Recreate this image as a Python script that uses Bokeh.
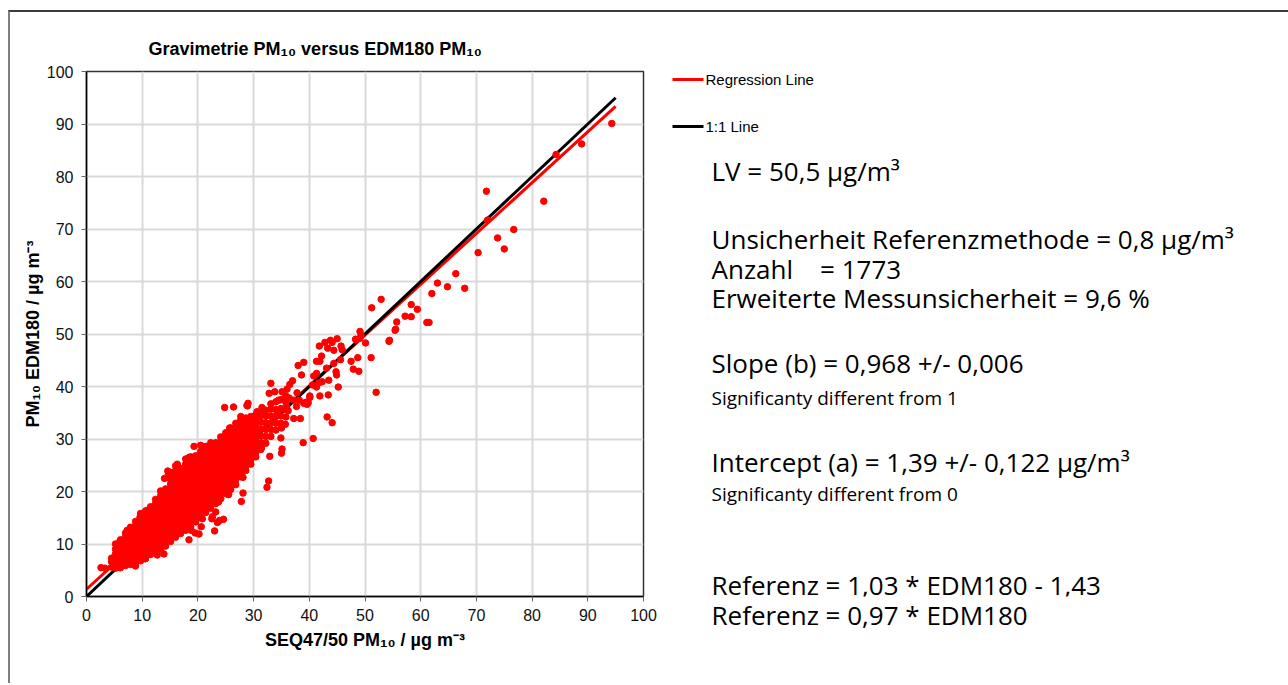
from bokeh.plotting import figure
from bokeh.layouts import row
from bokeh.models import Range1d, FixedTicker, Title
from bokeh.core.properties import value
from bokeh.embed import file_html
from bokeh.resources import INLINE

tick_values = [0, 10, 20, 30, 40, 50, 60, 70, 80, 90, 100]

# dense core of the scatter: x position of each column and the y values read in it
col_x = [4.5, 5.2, 6.1, 7.0, 7.9, 8.8, 9.7, 10.6, 11.5, 12.4, 13.3, 14.2, 15.1, 16.0,
         16.9, 17.8, 18.7, 19.6, 20.5, 21.4, 22.3, 23.2, 24.1, 25.0, 25.9, 26.8, 27.7,
         28.6, 29.5, 30.4, 31.3, 32.2, 33.1, 34.0, 34.9, 35.8]
col_y = [
    [5.6, 6.6, 7.3],
    [5.4, 6.3, 7.2, 8.1, 9.0, 10.0],
    [5.5, 6.4, 7.3, 8.2, 9.1, 10.1, 10.8],
    [5.9, 6.8, 7.7, 8.6, 9.5, 10.4, 11.3, 12.1],
    [6.1, 7.0, 7.9, 8.8, 9.7, 10.6, 11.5, 12.4, 13.2],
    [6.5, 7.2, 8.1, 9.0, 9.9, 10.8, 11.7, 12.6, 13.5, 14.3],
    [6.8, 7.7, 8.6, 9.5, 10.4, 11.3, 12.2, 13.1, 14.0, 14.9, 15.8],
    [7.2, 8.3, 9.2, 10.1, 11.0, 11.9, 12.8, 13.7, 14.6, 15.5, 16.3],
    [8.0, 9.0, 9.9, 10.8, 11.7, 12.6, 13.5, 14.4, 15.3, 16.2, 17.1],
    [8.6, 9.6, 10.5, 11.4, 12.3, 13.2, 14.1, 15.0, 15.9, 16.8, 17.7, 18.5],
    [9.0, 10.2, 11.1, 12.0, 12.9, 13.8, 14.7, 15.6, 16.5, 17.4, 18.3, 19.2, 20.1],
    [9.6, 10.6, 11.5, 12.4, 13.3, 14.2, 15.1, 16.0, 16.9, 17.8, 18.7, 19.6, 20.5],
    [10.5, 11.5, 12.4, 13.3, 14.2, 15.1, 16.0, 16.9, 17.8, 18.7, 19.6, 20.5, 21.4, 22.3, 23.0],
    [11.3, 12.3, 13.2, 14.1, 15.0, 15.9, 16.8, 17.7, 18.6, 19.5, 20.4, 21.3, 22.2, 23.1, 24.0, 24.9],
    [12.0, 13.0, 13.9, 14.8, 15.7, 16.6, 17.5, 18.4, 19.3, 20.2, 21.1, 22.0, 22.9, 23.8, 24.4],
    [12.6, 13.5, 14.4, 15.3, 16.2, 17.1, 18.0, 18.9, 19.8, 20.7, 21.6, 22.5, 23.4, 24.3, 25.2, 26.2],
    [13.3, 14.3, 15.2, 16.1, 17.0, 17.9, 18.8, 19.7, 20.6, 21.5, 22.4, 23.3, 24.2, 25.1, 26.0, 26.6],
    [14.2, 15.2, 16.1, 17.0, 17.9, 18.8, 19.7, 20.6, 21.5, 22.4, 23.3, 24.2, 25.1, 26.0, 26.8],
    [15.0, 16.0, 16.9, 17.8, 18.7, 19.6, 20.5, 21.4, 22.3, 23.2, 24.1, 25.0, 25.9, 26.8, 27.6],
    [16.0, 16.9, 17.8, 18.7, 19.6, 20.5, 21.4, 22.3, 23.2, 24.1, 25.0, 25.9, 26.8, 27.7, 28.4],
    [16.8, 17.8, 18.7, 19.6, 20.5, 21.4, 22.3, 23.2, 24.1, 25.0, 25.9, 26.8, 27.7, 28.6, 29.3],
    [17.7, 18.6, 19.5, 20.4, 21.3, 22.2, 23.1, 24.0, 24.9, 25.8, 26.7, 27.6, 28.5, 29.3],
    [18.6, 19.6, 20.5, 21.4, 22.3, 23.2, 24.1, 25.0, 25.9, 26.8, 27.7, 28.6, 29.5, 30.4],
    [19.6, 20.6, 21.5, 22.4, 23.3, 24.2, 25.1, 26.0, 26.9, 27.8, 28.7, 29.6, 30.5, 31.2],
    [20.4, 21.4, 22.3, 23.2, 24.1, 25.0, 25.9, 26.8, 27.7, 28.6, 29.5, 30.4, 31.3, 32.1],
    [21.3, 22.3, 23.2, 24.1, 25.0, 25.9, 26.8, 27.7, 28.6, 29.5, 30.4, 31.3, 32.2, 33.0],
    [22.8, 23.8, 24.7, 25.6, 26.5, 27.4, 28.3, 29.2, 30.1, 31.0, 31.9, 32.8, 33.6],
    [24.0, 24.9, 25.8, 26.7, 27.6, 28.5, 29.4, 30.3, 31.2, 32.1, 33.0, 34.0],
    [25.2, 26.1, 27.0, 27.9, 28.8, 29.7, 30.6, 31.5, 32.4, 33.3, 34.3],
    [26.6, 27.5, 28.4, 29.3, 30.2, 31.1, 32.0, 32.9, 33.8, 34.6],
    [28.0, 29.3, 30.6, 31.9, 33.2, 34.5, 35.1],
    [29.2, 30.5, 31.8, 33.1, 34.4, 35.5],
    [30.5, 31.8, 33.1, 34.4, 35.7, 36.7],
    [31.7, 33.0, 34.3, 35.6, 37.1],
    [33.0, 34.4, 35.8, 37.5],
    [34.2, 35.6, 37.0, 38.2],
]

# scattered points outside the dense core
out_x = [94.3, 88.9, 84.3, 82.1, 71.8, 72.0, 76.7, 73.8, 75.0, 70.3, 66.3, 63.0, 64.8, 67.9,
         62.0, 52.9, 51.2, 58.3, 59.4, 57.2, 58.3, 55.7, 61.1, 61.5, 55.5, 49.1, 45.0, 48.3,
         49.1, 54.4, 43.8, 54.3, 55.4, 51.1, 52.0, 50.1, 49.3, 48.4, 47.5, 47.9, 48.9, 48.7,
         45.6, 44.1, 42.8, 41.8, 43.3, 44.4, 45.7, 45.9, 42.2, 41.3, 41.9, 44.4, 43.1, 39.0,
         38.6, 41.3, 40.8, 44.8, 44.9, 43.5, 42.3, 41.7, 40.6, 41.3, 45.2, 41.9, 43.4, 40.1,
         39.4, 39.0, 39.6, 43.2, 44.1, 40.7, 38.9, 38.4, 38.0, 37.0, 33.1, 32.8, 35.1, 34.5,
         36.4, 37.2, 38.2, 35.9, 37.7, 39.8, 40.1, 37.2, 35.7, 35.0, 34.9, 35.1, 35.0, 32.9,
         32.7, 32.4, 31.4, 30.8, 30.6, 28.1, 27.8, 28.9, 28.7, 28.9, 29.0, 24.8, 27.7, 25.7,
         19.3, 20.5, 18.8, 18.4, 16.3, 14.0, 14.6, 14.7, 13.8, 13.9, 12.7, 10.5, 8.9, 8.8,
         6.0, 5.7, 4.8, 2.6, 3.3, 5.9, 6.2, 18.4, 18.8, 19.5, 20.6, 20.8, 23.0, 23.2, 23.5,
         23.9, 22.5, 23.7, 25.5, 24.0, 19.4, 21.7, 25.1, 20.2, 24.6, 22.6, 28.1, 30.0, 7.3,
         9.6, 10.9, 21.5, 15.1, 26.4, 28.8, 36.0, 33.8, 36.5, 37.8, 31.5, 30.0, 34.3, 36.2]
out_y = [90.1, 86.2, 84.2, 75.3, 77.2, 71.7, 69.9, 68.3, 66.2, 65.5, 61.5, 59.7, 59.0, 58.7,
         57.7, 56.6, 55.0, 55.6, 54.7, 53.4, 53.3, 52.3, 52.2, 52.2, 50.9, 50.5, 49.1, 49.0,
         49.2, 48.8, 48.8, 48.6, 50.7, 45.5, 38.9, 48.3, 49.8, 48.9, 44.8, 43.3, 42.9, 45.5,
         45.1, 48.4, 48.4, 47.7, 47.3, 46.9, 47.7, 47.0, 45.8, 44.8, 44.8, 44.4, 43.5, 44.6,
         42.2, 42.5, 42.0, 42.8, 42.2, 41.2, 40.9, 40.7, 40.3, 39.9, 39.9, 38.2, 38.4, 38.2,
         37.0, 36.8, 36.6, 34.2, 33.1, 30.1, 29.3, 33.9, 44.0, 41.1, 40.6, 38.7, 39.0, 37.4,
         37.8, 37.4, 37.4, 36.1, 36.2, 36.9, 37.9, 33.9, 32.8, 32.1, 30.2, 28.1, 27.3, 26.7,
         22.0, 20.8, 28.3, 31.0, 35.2, 19.7, 18.1, 25.3, 26.5, 36.3, 36.8, 36.0, 34.3, 32.1,
         28.6, 28.8, 26.4, 26.5, 25.2, 22.5, 23.9, 23.2, 19.8, 8.1, 7.9, 7.2, 7.2, 5.8,
         5.5, 6.5, 7.2, 5.5, 5.4, 10.3, 9.3, 10.8, 12.6, 12.1, 13.3, 14.8, 12.5, 16.1, 14.1,
         14.5, 14.8, 18.0, 19.4, 19.8, 22.2, 21.8, 22.2, 11.9, 14.7, 15.2, 22.7, 26.7, 12.6,
         15.1, 16.4, 28.6, 23.6, 36.1, 36.4, 39.5, 39.0, 40.4, 38.8, 36.0, 32.5, 35.0, 35.4]

reg_slope = 0.968
reg_intercept = 1.39
line_x = [0, 95]

title_text = "Gravimetrie PM\u2081\u2080  versus EDM180 PM\u2081\u2080"
x_title = "SEQ47/50 PM\u2081\u2080 / \u00b5g m\u207b\u00b3"
y_title = "PM\u2081\u2080 EDM180 / \u00b5g m\u207b\u00b3"
legend_labels = ["Regression Line", "1:1 Line"]
legend_colors = ["#ff0000", "black"]
info_big = ["LV = 50,5 \u00b5g/m\u00b3",
            "Unsicherheit Referenzmethode = 0,8 \u00b5g/m\u00b3",
            "Anzahl\u00a0\u00a0\u00a0 = 1773",
            "Erweiterte Messunsicherheit = 9,6 %",
            "Slope (b) = 0,968 +/- 0,006",
            "Intercept (a) = 1,39 +/- 0,122 \u00b5g/m\u00b3",
            "Referenz = 1,03 * EDM180 - 1,43"]
info_last = "Referenz = 0,97 * EDM180"
info_small = ["Significanty different from 1", "Significanty different from 0"]

# flatten the core columns
pt_x, pt_y = [], []
for cx, ys in zip(col_x, col_y):
    for yy in ys:
        pt_x.append(cx)
        pt_y.append(yy)
pt_x += out_x
pt_y += out_y

# ---------------- scatter plot (left) ----------------
H = 671
p = figure(width=650, height=H, x_range=Range1d(0, 100), y_range=Range1d(0, 100),
           output_backend="svg", toolbar_location=None,
           min_border_left=76, min_border_right=17, min_border_top=59, min_border_bottom=87)
p.title = Title(text=title_text, align="left", offset=62, text_font="Liberation Sans",
                text_font_style="bold", text_font_size="18px", text_color="black", standoff=26)
p.background_fill_color = "white"
p.border_fill_color = "white"
p.outline_line_color = "#333333"
p.outline_line_width = 1.5

for ax in (p.xaxis[0], p.yaxis[0]):
    ax.ticker = FixedTicker(ticks=tick_values)
    ax.axis_line_color = "black"
    ax.axis_line_width = 1.5
    ax.major_tick_line_color = "#666666"
    ax.major_tick_in = 0
    ax.major_tick_out = 5
    ax.minor_tick_line_color = None
    ax.major_label_text_font = "Liberation Sans"
    ax.major_label_text_font_size = "16px"
    ax.major_label_text_color = "#111111"
    ax.axis_label_text_font = "Liberation Sans"
    ax.axis_label_text_font_style = "bold"
    ax.axis_label_text_font_size = "18px"
    ax.axis_label_text_color = "black"
p.xaxis.axis_label = x_title
p.yaxis.axis_label = y_title
p.xaxis.major_label_standoff = 7
p.yaxis.major_label_standoff = 8
p.xaxis.axis_label_standoff = 6
p.yaxis.axis_label_standoff = 1

p.grid.grid_line_color = "#d9d9d9"
p.grid.grid_line_width = 2
p.xgrid.ticker = FixedTicker(ticks=tick_values)
p.ygrid.ticker = FixedTicker(ticks=tick_values)

reg_y = [reg_intercept + reg_slope * v for v in line_x]
p.line(line_x, reg_y, line_color="#ff0000", line_width=3)
p.line(line_x, line_x, line_color="black", line_width=3)
p.scatter(pt_x, pt_y, marker="circle", size=6.5, fill_color="#ff0000", line_color="#ff0000")

# ---------------- text panel (right); its frame is aligned with the scatter frame,
# so its x/y units are page pixels (y between 71 at the top and 596 at the bottom) ----------------
X0 = 660
W2 = 1288 - 10 - 650
p2 = figure(width=W2, height=H, x_range=Range1d(X0, X0 + W2), y_range=Range1d(596, 71),
            output_backend="svg", toolbar_location=None, x_axis_type=None, y_axis_type=None,
            min_border=0)
p2.grid.visible = False
p2.outline_line_color = None
p2.background_fill_color = "white"
p2.border_fill_color = "white"

# legend keys (layout positions in page pixels)
key_y = [79, 126]
p2.segment(x0=[672, 672], y0=key_y, x1=[703, 703], y1=key_y, line_color=legend_colors,
           line_width=3)
p2.text(x=[705, 705], y=key_y, text=legend_labels, text_font=value("Liberation Sans"),
        text_font_size="15px", text_baseline="middle", text_color="black")

big_y = [170, 238, 268, 297, 362, 461, 584]
small_y = [397, 493]
p2.text(x=[711] * len(info_big), y=big_y, text=info_big, text_font=value("Open Sans"),
        text_font_size="26px", text_baseline="middle", text_color="black")
p2.text(x=[711] * len(info_small), y=small_y, text=info_small, text_font=value("Open Sans"),
        text_font_size="19px", text_baseline="middle", text_color="black")
p2.add_layout(Title(text=info_last, align="left", offset=711 - X0, text_font="Open Sans",
                    text_font_style="normal", text_font_size="26px", text_color="black",
                    vertical_align="top", standoff=0), "below")

layout = row(p, p2, styles={"margin-left": "8px", "margin-top": "10px",
                            "border-left": "2px solid #7f7f7f",
                            "border-top": "2px solid #3a3a3a"})

open("out.html", "w").write(file_html(layout, INLINE))
